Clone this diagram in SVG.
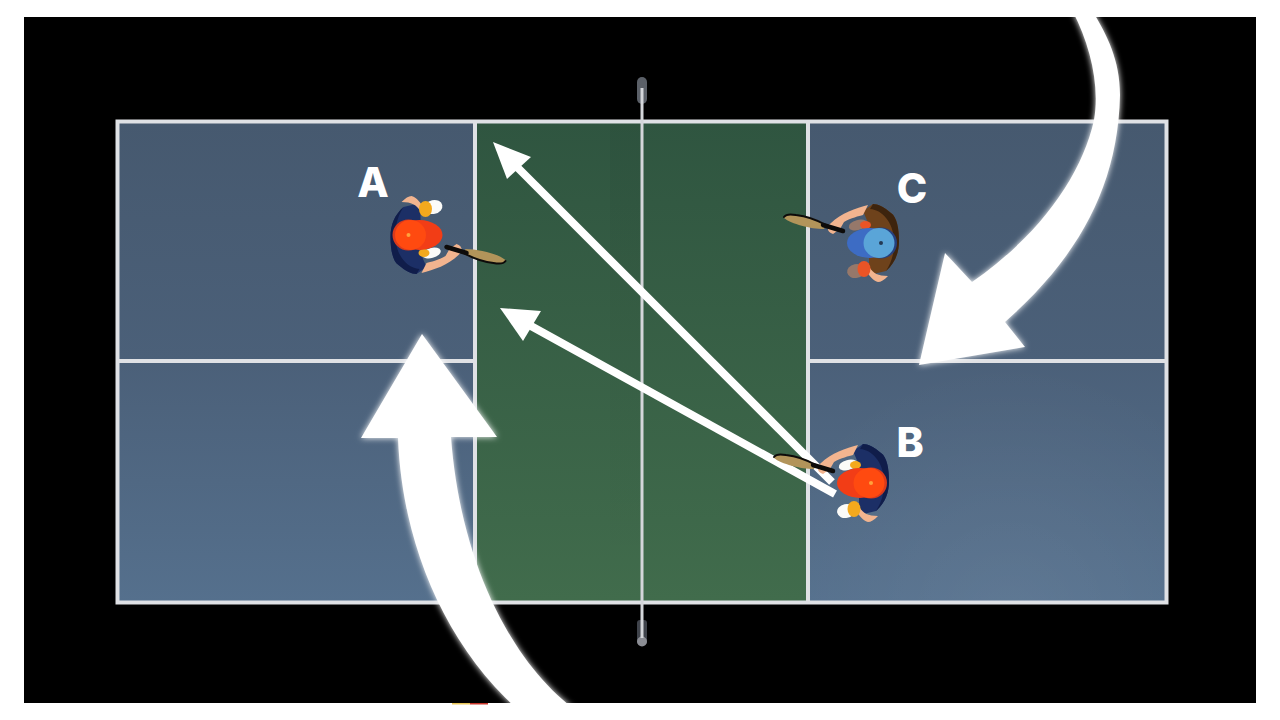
<svg xmlns="http://www.w3.org/2000/svg" width="1280" height="720" viewBox="0 0 1280 720">
<style>
.line{stroke:#dfe1e5;stroke-width:4;fill:none}
.label{font-family:"Inter","Liberation Sans",sans-serif;font-weight:800;font-size:41px;fill:#fff;text-anchor:middle}
.skin{fill:#f2b48f}
.a-jersey{fill:#1c2f66}.a-dark{fill:#101d4a}.a-brim{fill:#f23d16}.a-crown{fill:#ff4a10}.a-ring{fill:#d93a1c}.a-dot{fill:#ffa23c}.a-sock{fill:#f3a91d}.a-shoe{fill:#fbfbf8}
.c-jersey{fill:#6e421b}.c-dark{fill:#3d240e}.c-brim{fill:#3d6cc4}.c-crown{fill:#5aa5d8}.c-ring{fill:#26407e}.c-dot{fill:#233a55}.c-sock{fill:#ea5426}.c-shoe{fill:#96786a}
.shot{stroke:#fff;stroke-width:8;fill:none}
.white{fill:#fff}
</style>
<defs>
<linearGradient id="blue" gradientUnits="userSpaceOnUse" x1="0" y1="121" x2="0" y2="602">
<stop offset="0" stop-color="#46596f"/><stop offset="0.5" stop-color="#4b6079"/><stop offset="1" stop-color="#55708d"/>
</linearGradient>
<linearGradient id="green" gradientUnits="userSpaceOnUse" x1="0" y1="121" x2="0" y2="602">
<stop offset="0" stop-color="#2f5540"/><stop offset="1" stop-color="#416c4c"/>
</linearGradient>
<linearGradient id="band" gradientUnits="userSpaceOnUse" x1="0" y1="121" x2="0" y2="602">
<stop offset="0" stop-color="#000" stop-opacity="0.04"/><stop offset="1" stop-color="#000" stop-opacity="0"/>
</linearGradient>
<radialGradient id="lift" gradientUnits="userSpaceOnUse" cx="1010" cy="620" r="260">
<stop offset="0" stop-color="#fff" stop-opacity="0.06"/><stop offset="1" stop-color="#fff" stop-opacity="0"/>
</radialGradient>
<filter id="glow" x="-20%" y="-20%" width="140%" height="140%">
<feGaussianBlur stdDeviation="3" result="b"/>
<feMerge><feMergeNode in="b"/><feMergeNode in="SourceGraphic"/></feMerge>
</filter>
<clipPath id="frame"><rect x="24" y="17" width="1232" height="686"/></clipPath>
<g id="racket">
<path d="M57 14C70 14 90 19 97 25C97 29 92 29 85 28C72 27 60 22 55 18Z" fill="#b2945a"/>
<path d="M55 18C64 23 76 27 85 28C90 29 95 29 97 26" stroke="#0d0b0a" stroke-width="2" fill="none" stroke-linecap="round"/>
<path d="M38 12L58 18" stroke="#0d0b0a" stroke-width="4.500" stroke-linecap="round"/>
</g>
</defs>
<rect width="1280" height="720" fill="#fff"/>
<rect x="24" y="17" width="1232" height="686" fill="#000"/>
<g id="court">
<rect x="117" y="121.500" width="358" height="481" fill="url(#blue)"/>
<rect x="808" y="121.500" width="359" height="481" fill="url(#blue)"/>
<rect x="808" y="361" width="359" height="241" fill="url(#lift)"/>
<rect x="475" y="121.500" width="333" height="481" fill="url(#green)"/>
<rect x="610" y="121.500" width="32" height="481" fill="url(#band)"/>
<rect x="117.500" y="121.500" width="1049" height="481" class="line"/>
<path class="line" d="M475 121.500V602.500M808 121.500V602.500M117 361H475M808 361H1167"/>
<g id="net">
<rect x="637" y="77" width="10" height="27" rx="5" fill="#5b6068"/>
<rect x="637" y="620" width="10" height="24" rx="3" fill="#3f434b"/>
<circle cx="642" cy="641.500" r="5" fill="#8b8d94"/>
<rect x="640.500" y="88" width="3" height="550" fill="#d4d6da"/>
</g>
</g>
<g id="connectors">
<path class="shot" d="M832 482L517 167"/>
<path class="white" d="M493 142L531 157L507 179Z"/>
<path class="shot" d="M835 494L531 326"/>
<path class="white" d="M500 308L541 311L523 341Z"/>
</g>
<g id="player-a" transform="translate(408.500 235)">
<path class="a-jersey" d="M12-32L-5-28C-14-20-18-10-18 2C-18 14-16 26-10 30C-3 36 3 39 8 39L18 32L12 18L12-22Z"/>
<path class="a-dark" d="M-5-28C-14-20-18-10-18 2C-18 14-16 26-10 30C-3 36 3 39 8 39L11 34C-2 33-12 20-13 4C-14-10-10-20-5-28Z"/>
<path class="skin" d="M-7-33C-3-37 0-39 3-39C7-38 11-34 14-29L11-25C8-30 3-33-7-33ZM13 38C25 35 40 30 50 20C55 16 54 11 48 9L41 14L37 21C30 25 22 27 18 28Z"/>
<ellipse class="a-shoe" cx="25" cy="-28" rx="9" ry="7" transform="rotate(-12 25 -28)"/>
<ellipse class="a-sock" cx="17" cy="-26" rx="6.500" ry="8"/>
<ellipse class="a-shoe" cx="23" cy="18" rx="9.500" ry="5" transform="rotate(-15 23 18)"/>
<ellipse class="a-sock" cx="15.500" cy="18" rx="5.500" ry="4"/>
<ellipse class="a-brim" cx="11" cy="0" rx="23" ry="15"/>
<ellipse class="a-ring" cx="0" cy="0" rx="16" ry="15.500"/>
<ellipse class="a-crown" cx="2" cy="0" rx="15.500" ry="15"/>
<circle class="a-dot" cx="0" cy="0" r="2"/>
<use href="#racket"/>
</g>
<text class="label" x="373" y="197">A</text>
<g id="player-b" transform="translate(871 483) rotate(180)">
<path class="a-jersey" d="M12-32L-5-28C-14-20-18-10-18 2C-18 14-16 26-10 30C-3 36 3 39 8 39L18 32L12 18L12-22Z"/>
<path class="a-dark" d="M-5-28C-14-20-18-10-18 2C-18 14-16 26-10 30C-3 36 3 39 8 39L11 34C-2 33-12 20-13 4C-14-10-10-20-5-28Z"/>
<path class="skin" d="M-7-33C-3-37 0-39 3-39C7-38 11-34 14-29L11-25C8-30 3-33-7-33ZM13 38C25 35 40 30 50 20C55 16 54 11 48 9L41 14L37 21C30 25 22 27 18 28Z"/>
<ellipse class="a-shoe" cx="25" cy="-28" rx="9" ry="7" transform="rotate(-12 25 -28)"/>
<ellipse class="a-sock" cx="17" cy="-26" rx="6.500" ry="8"/>
<ellipse class="a-shoe" cx="23" cy="18" rx="9.500" ry="5" transform="rotate(-15 23 18)"/>
<ellipse class="a-sock" cx="15.500" cy="18" rx="5.500" ry="4"/>
<ellipse class="a-brim" cx="11" cy="0" rx="23" ry="15"/>
<ellipse class="a-ring" cx="0" cy="0" rx="16" ry="15.500"/>
<ellipse class="a-crown" cx="2" cy="0" rx="15.500" ry="15"/>
<circle class="a-dot" cx="0" cy="0" r="2"/>
<use href="#racket"/>
</g>
<text class="label" x="910" y="457">B</text>
<g id="player-c" transform="translate(881 243) rotate(180)">
<path class="c-jersey" d="M12-32L-5-28C-14-20-18-10-18 2C-18 14-16 26-10 30C-3 36 3 39 8 39L18 32L12 18L12-22Z"/>
<path class="c-dark" d="M-5-28C-14-20-18-10-18 2C-18 14-16 26-10 30C-3 36 3 39 8 39L11 34C-2 33-12 20-13 4C-14-10-10-20-5-28Z"/>
<path class="skin" d="M-7-33C-3-37 0-39 3-39C7-38 11-34 14-29L11-25C8-30 3-33-7-33ZM13 38C25 35 40 30 50 20C55 16 54 11 48 9L41 14L37 21C30 25 22 27 18 28Z"/>
<ellipse class="c-shoe" cx="25" cy="-28" rx="9" ry="7" transform="rotate(-12 25 -28)"/>
<ellipse class="c-sock" cx="17" cy="-26" rx="6.500" ry="8"/>
<ellipse class="c-shoe" cx="23" cy="18" rx="9.500" ry="5" transform="rotate(-15 23 18)"/>
<ellipse class="c-sock" cx="15.500" cy="18" rx="5.500" ry="4"/>
<ellipse class="c-brim" cx="11" cy="0" rx="23" ry="15"/>
<ellipse class="c-ring" cx="0" cy="0" rx="16" ry="15.500"/>
<ellipse class="c-crown" cx="2" cy="0" rx="15.500" ry="15"/>
<circle class="c-dot" cx="0" cy="0" r="2"/>
<use href="#racket"/>
</g>
<text class="label" x="912" y="203">C</text>
<g id="big-arrows" clip-path="url(#frame)">
<path class="white" filter="url(#glow)" d="M1073 12C1090 45 1100 85 1094 120C1082 175 1040 235 972 282L945 253L919 365L1025 347L1005 322C1075 260 1118 190 1120 95C1120 60 1107 35 1093 12Z"/>
<path class="white" filter="url(#glow)" d="M422 334L361 438H398C402 540 442 640 516 708H573C510 660 460 560 451 437H497Z"/>
</g>
<g id="edge-marks">
<rect x="452" y="703" width="18" height="1.500" fill="#e9c75a"/>
<rect x="470" y="703" width="18" height="1.500" fill="#c8352a"/>
</g>
</svg>
